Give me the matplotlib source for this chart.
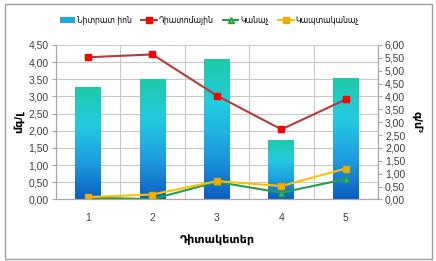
import matplotlib
matplotlib.use('Agg')
import matplotlib.pyplot as plt
import numpy as np
from matplotlib.patches import Patch, Rectangle
from matplotlib.lines import Line2D
from matplotlib.colors import LinearSegmentedColormap
from matplotlib.ticker import FuncFormatter, MultipleLocator

plt.rcParams['font.family'] = ['Liberation Sans', 'DejaVu Sans']

# data
stations = [1, 2, 3, 4, 5]
nitrate = [3.27, 3.51, 4.09, 1.72, 3.55]          # left axis, mg/L
diatom = [5.52, 5.63, 4.03, 2.72, 3.88]           # right axis
green = [0.07, 0.01, 0.68, 0.26, 0.79]
bluegreen = [0.09, 0.19, 0.71, 0.52, 1.20]

labels = ['Նիտրատ իոն', 'Դիատոմային', 'Կանաչ', 'Կապտականաչ']

fig = plt.figure(figsize=(4.36, 2.61), dpi=100)
fig.patches.append(Rectangle((0.012, 0.008), 0.978, 0.978, transform=fig.transFigure,
                             fill=False, edgecolor='#a0a0a0', linewidth=1))
ax = fig.add_axes([0.128, 0.236, 0.739, 0.592])
ax2 = ax.twinx()

# bars with a vertical gradient (teal top -> blue bottom)
cmap = LinearSegmentedColormap.from_list('bar', ['#0a5ec0', '#1e9ee0', '#22cce0', '#1ec9a6'])
grad = np.linspace(0, 1, 256).reshape(-1, 1)
bars = ax.bar(stations, nitrate, width=0.4, color='none', edgecolor='none')
for b in bars:
    x0, w, h = b.get_x(), b.get_width(), b.get_height()
    im = ax.imshow(grad, extent=(x0, x0 + w, 0, h), origin='lower', cmap=cmap,
                   aspect='auto', zorder=2)
    im.set_clip_path(b)

ax.set_xlim(0.5, 5.5)
ax.set_ylim(0, 4.5)
ax.yaxis.set_major_locator(MultipleLocator(0.5))
ax.set_xticks(stations)
ax.set_xticks(np.arange(0.5, 6, 1), minor=True)
ax.grid(True, which='major', axis='y', color='#c8c8c8', linewidth=0.8)
ax.grid(True, which='minor', axis='x', color='#c8c8c8', linewidth=0.8)
ax.set_axisbelow(True)

# lines on the secondary axis
ax2.plot(stations, diatom, color='#b83a3a', linewidth=1.5, marker='s', markersize=5,
         markerfacecolor='#ff0000', markeredgecolor='#ff0000')
ax2.plot(stations, green, color='#22a04a', linewidth=1.5, marker='^', markersize=5,
         markerfacecolor='#40c060', markeredgecolor='#22a04a')
ax2.plot(stations, bluegreen, color='#ffc000', linewidth=1.5, marker='s', markersize=5,
         markerfacecolor='#f0b000', markeredgecolor='#e8a800')
ax2.set_ylim(0, 6)
ax2.yaxis.set_major_locator(MultipleLocator(0.5))

fmt = FuncFormatter(lambda v, p: f'{v:.2f}'.replace('.', ','))
ax.yaxis.set_major_formatter(fmt)
ax2.yaxis.set_major_formatter(fmt)

for a in (ax, ax2):
    for s in a.spines.values():
        s.set_color('#a8a8a8')
        s.set_linewidth(0.8)
    a.spines['top'].set_visible(False)
    a.tick_params(axis='y', labelsize=7.5, colors='#404040', length=3, width=0.8,
                  color='#a8a8a8', pad=2)
ax.tick_params(axis='x', which='both', length=0, labelsize=7.5, colors='#404040', pad=10)

ax.set_ylabel('մգ/լ', fontsize=8, fontweight='bold', labelpad=3)
ax2.set_ylabel('գ/մ³', fontsize=8, fontweight='bold', rotation=270, labelpad=12)
ax.set_xlabel('Դիտակետեր', fontsize=8, fontweight='bold', labelpad=8)

handles = [
    Patch(facecolor='#1ea8e0', edgecolor='none'),
    Line2D([], [], color='#b83a3a', marker='s', markersize=4,
           markerfacecolor='#ff0000', markeredgecolor='#ff0000'),
    Line2D([], [], color='#22a04a', marker='^', markersize=4,
           markerfacecolor='#40c060', markeredgecolor='#22a04a'),
    Line2D([], [], color='#ffc000', marker='s', markersize=4,
           markerfacecolor='#f0b000', markeredgecolor='#e8a800'),
]
fig.legend(handles, labels, loc='center', bbox_to_anchor=(0.48, 0.922), ncol=4,
           frameon=False, prop={'size': 6.2, 'stretch': 'condensed'},
           handlelength=1.8, handletextpad=0.2, columnspacing=1.1)

fig.savefig('out.png', dpi=100)
